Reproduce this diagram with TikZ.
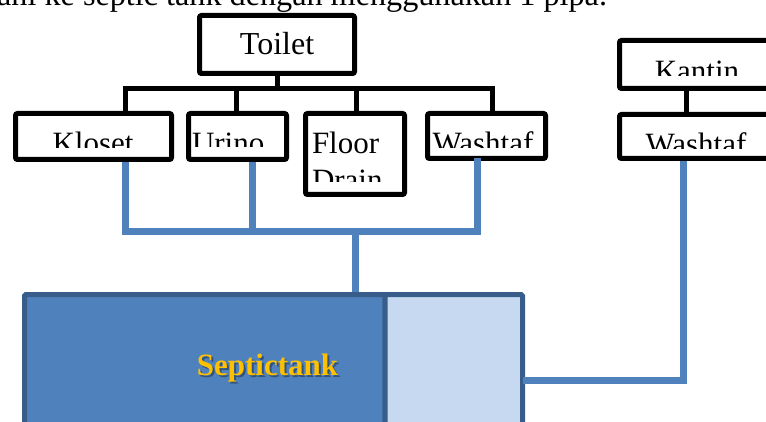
\documentclass[tikz,border=0pt]{standalone}
\usepackage{fontspec}
\setmainfont{Liberation Serif}
\definecolor{pipeblue}{HTML}{4F81BD}
\definecolor{tankedge}{HTML}{385D8A}
\definecolor{tanklight}{HTML}{C6D9F1}
\definecolor{septgold}{HTML}{FFC000}
\tikzset{
  blackbox/.style={draw=black, line width=5pt, rounded corners=2pt, fill=white, inner sep=0pt, outer sep=0pt},
  tankbox/.style={draw=tankedge, line width=5pt, rounded corners=1.5pt, inner sep=0pt, outer sep=0pt},
  tree/.style={draw=black, line width=5pt, line cap=rect},
  pipe/.style={draw=pipeblue, line width=7pt},
  lbl/.style={inner sep=0pt, outer sep=0pt, font=\fontsize{31}{37}\selectfont},
}
\begin{document}
\begin{tikzpicture}[x=1pt,y=-1pt]
\useasboundingbox (0,0) rectangle (766,422);
\clip (0,0) rectangle (766,422);

% partial sentence at the top
\node[lbl, anchor=base east, font=\fontsize{32.2}{38}\selectfont] (intro) at (607,6) {ani ke septic tank dengan menggunakan 1 pipa.};

% boxes
\node[blackbox, minimum width=155pt, minimum height=58pt] (toilet) at (277,44.5) {};
\node[blackbox, minimum width=156pt, minimum height=46pt] (kloset) at (93.5,136.5) {};
\node[blackbox, minimum width=98pt, minimum height=46pt] (urino) at (237.5,136.5) {};
\node[blackbox, minimum width=99pt, minimum height=81pt] (floor) at (355,154) {};
\node[blackbox, minimum width=118pt, minimum height=45pt] (washtafA) at (486.5,136) {};
\node[blackbox, minimum width=160pt, minimum height=48pt] (kantin) at (699.5,64.5) {};
\node[blackbox, minimum width=160pt, minimum height=44pt] (washtafB) at (699.5,136.5) {};

% texts (clipped as in the reference)
\node[lbl, anchor=base, font=\fontsize{32}{38}\selectfont] (toilettext) at (277,55) {Toilet};
\begin{scope}
  \clip (15,113) rectangle (172,148);
  \node[lbl, anchor=base] (klosettext) at (93,154) {Kloset};
\end{scope}
\begin{scope}
  \clip (188,113) rectangle (287,147);
  \node[lbl, anchor=base west] (urinotext) at (192,154) {Urino};
\end{scope}
\begin{scope}
  \clip (306,113) rectangle (405,182);
  \node[lbl, anchor=base west] (floortext) at (312,154) {Floor};
  \node[lbl, anchor=base west] (draintext) at (312,191) {Drain};
\end{scope}
\begin{scope}
  \clip (428,113) rectangle (546,148);
  \node[lbl, anchor=base] (washtafAtext) at (483,154) {Washtaf};
\end{scope}
\begin{scope}
  \clip (620,40) rectangle (766,76);
  \node[lbl, anchor=base] (kantintext) at (697,82) {Kantin};
\end{scope}
\begin{scope}
  \clip (620,115) rectangle (766,149);
  \node[lbl, anchor=base] (washtafBtext) at (696,155) {Washtaf};
\end{scope}

% black tree connectors
\coordinate (barL) at (125,88.5);
\coordinate (barR) at (492,88.5);
\coordinate (kx) at (686,0);
\draw[tree] (toilet.south) -- (toilet.south |- barL);
\draw[tree, line cap=butt] (kloset.north -| barL) -- (barL) -- (barR) -- (washtafA.north -| barR);
\draw[tree, line cap=butt] (urino.north) ++(-1.5,0) -- ++(0,-25);
\draw[tree, line cap=butt] (floor.north) ++(1,0) -- ++(0,-25);
\draw[tree, line cap=butt] (kantin.south -| kx) -- (washtafB.north -| kx);

% tank
\node[tankbox, fill=pipeblue, anchor=north west, minimum width=360.5pt, minimum height=160pt] (tankmain) at (24.5,294.5) {};
\node[tankbox, fill=tanklight, anchor=north west, minimum width=137.5pt, minimum height=160pt] (tankside) at (385,294.5) {};
\node[anchor=base, inner sep=0pt, font=\bfseries\fontsize{31}{37}\selectfont, text=black, opacity=0.35] (septicshadow) at (269.5,377.5) {Septictank};
\node[anchor=base, inner sep=0pt, font=\bfseries\fontsize{31}{37}\selectfont, text=septgold] (septictext) at (267.5,375.5) {Septictank};

% blue pipes
\coordinate (kp) at (125,0);
\coordinate (wp) at (477,0);
\coordinate (up) at (252,0);
\coordinate (jL) at (125,231.5);
\coordinate (jR) at (477,231.5);
\coordinate (jC) at (355,231.5);
\coordinate (kc) at (683.5,380.5);
\draw[pipe, shorten <=2.5pt] (kloset.south -| kp) -- (jL) -- (jR) -- (washtafA.south -| wp);
\draw[pipe, shorten <=2.5pt] (urino.south -| up) -- (up |- jL);
\draw[pipe, shorten >=2.5pt] (jC) -- (tankmain.north -| jC);
\draw[pipe, shorten <=2.5pt] (washtafB.south -| kc) -- (kc) -- (tankside.east |- kc);
\end{tikzpicture}
\end{document}
